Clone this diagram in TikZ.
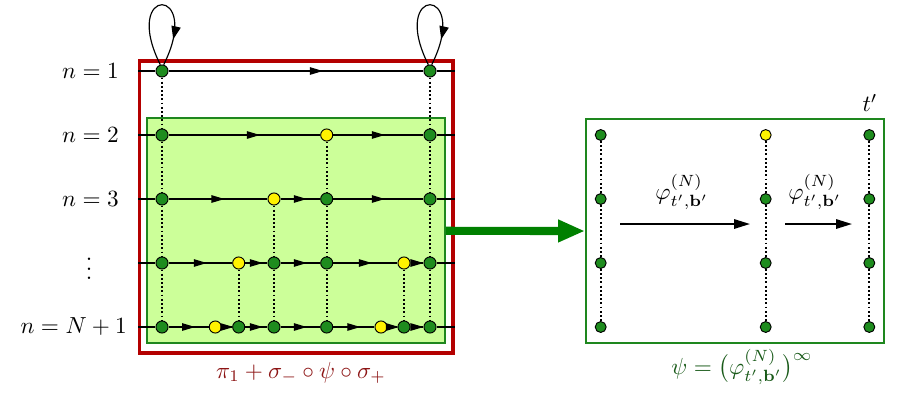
\documentclass[tikz,border=0pt]{standalone}
\usepackage{amsmath,amssymb,bm}
\usepackage{tikz}
\usetikzlibrary{arrows.meta,positioning,fit,decorations.markings}
\definecolor{dotgreen}{RGB}{30,140,30}
\definecolor{boxred}{RGB}{180,0,0}
\definecolor{lblred}{RGB}{140,20,20}
\definecolor{boxgreen}{RGB}{30,135,30}
\definecolor{lightfill}{RGB}{204,255,153}
\definecolor{bigarrow}{RGB}{0,128,0}
\definecolor{lblgreen}{RGB}{25,90,25}

\begin{document}
\begin{tikzpicture}[x=0.43pt, y=-0.43pt,
      gdot/.style={circle, fill=dotgreen, draw=black, line width=0.4pt,
                   inner sep=0pt, minimum size=5.2pt},
      ydot/.style={gdot, fill=yellow},
      sdot/.style={gdot, minimum size=4.7pt},
      sydot/.style={sdot, fill=yellow},
      midarr/.style={postaction={decorate}, decoration={markings,
                   mark=at position #1 with {\arrow[xshift=2.8pt]{Triangle[length=5.6pt,width=3.2pt]}}}},
      midarr/.default=0.5,
      row/.style={line width=0.5pt},
      link/.style={densely dotted, line width=0.8pt},
      looparr/.style={line width=0.5pt, postaction={decorate}, decoration={markings,
                   mark=at position 0.8 with {\arrow{Triangle[length=5.6pt,width=4pt]}}}},
      redfr/.style={draw=boxred, line width=1.3pt, inner sep=0pt},
      greenfr/.style={draw=boxgreen, fill=lightfill, line width=0.8pt, inner sep=0pt},
      rightfr/.style={draw=boxgreen, line width=0.9pt, inner sep=0pt},
      bigarr/.style={-{Triangle[length=11.5pt,width=9pt]}, line width=3.5pt, bigarrow},
      flow/.style={-{Triangle[length=6.8pt,width=4pt]}, line width=0.8pt},
    ]
    \useasboundingbox (0,0) rectangle (897,410);

    \node[redfr, fit={(139.3,61) (453,353)}] (red) {};
    \node[greenfr, fit={(147.3,118.3) (445,343.3)}] (green) {};
    \node[rightfr, fit={(586,119) (884,343)}] (right) {};

    \node[anchor=east] (n1) at (127,71)  {$n=1$};
    \node[anchor=east] (n2) at (127,135) {$n=2$};
    \node[anchor=east] (n3) at (127,199) {$n=3$};
    \node (ndots) at (89,262) {$\vdots$};
    \node[anchor=east] (nN) at (135,327) {$n=N+1$};

    \node[gdot] (a1) at (162,71) {};
    \node[gdot] (h1) at (430,71) {};

    \node[gdot] (a2) at (162,135) {};
    \node[ydot] (e2) at (326.7,135) {};
    \node[gdot] (h2) at (430,135) {};

    \node[gdot] (a3) at (162,199) {};
    \node[ydot] (d3) at (274,199) {};
    \node[gdot] (e3) at (326.7,199) {};
    \node[gdot] (h3) at (430,199) {};

    \node[gdot] (a4) at (162,263) {};
    \node[ydot] (c4) at (238.7,263) {};
    \node[gdot] (d4) at (274,263) {};
    \node[gdot] (e4) at (326.7,263) {};
    \node[ydot] (g4) at (404,263) {};
    \node[gdot] (h4) at (430,263) {};

    \node[gdot] (a5) at (162,327) {};
    \node[ydot] (b5) at (215.3,327) {};
    \node[gdot] (c5) at (238.7,327) {};
    \node[gdot] (d5) at (274,327) {};
    \node[gdot] (e5) at (326.7,327) {};
    \node[ydot] (f5) at (381,327) {};
    \node[gdot] (g5) at (404,327) {};
    \node[gdot] (h5) at (430,327) {};

    \coordinate (w1) at (138,71);  \coordinate (x1) at (455,71);
    \coordinate (w2) at (138,135); \coordinate (x2) at (455,135);
    \coordinate (w3) at (138,199); \coordinate (x3) at (455,199);
    \coordinate (w4) at (138,263); \coordinate (x4) at (455,263);
    \coordinate (w5) at (138,327); \coordinate (x5) at (455,327);

    \draw[row] (w1) -- (a1);
    \draw[row, midarr=0.58] (a1) -- (h1);
    \draw[row] (h1) -- (x1);

    \draw[row] (w2) -- (a2);
    \draw[row, midarr=0.56] (a2) -- (e2);
    \draw[row, midarr] (e2) -- (h2);
    \draw[row] (h2) -- (x2);

    \draw[row] (w3) -- (a3);
    \draw[row, midarr] (a3) -- (d3);
    \draw[row, midarr] (d3) -- (e3);
    \draw[row, midarr] (e3) -- (h3);
    \draw[row] (h3) -- (x3);

    \draw[row] (w4) -- (a4);
    \draw[row, midarr] (a4) -- (c4);
    \draw[row, midarr] (c4) -- (d4);
    \draw[row, midarr] (d4) -- (e4);
    \draw[row, midarr] (e4) -- (g4);
    \draw[row, midarr] (g4) -- (h4);
    \draw[row] (h4) -- (x4);

    \draw[row] (w5) -- (a5);
    \draw[row, midarr] (a5) -- (b5);
    \draw[row, midarr] (b5) -- (c5);
    \draw[row, midarr] (c5) -- (d5);
    \draw[row, midarr] (d5) -- (e5);
    \draw[row, midarr] (e5) -- (f5);
    \draw[row, midarr] (f5) -- (g5);
    \draw[row, midarr] (g5) -- (h5);
    \draw[row] (h5) -- (x5);

    \draw[link] (a1) -- (a2) -- (a3) -- (a4) -- (a5);
    \draw[link] (h1) -- (h2) -- (h3) -- (h4) -- (h5);
    \draw[link] (e2) -- (e3) -- (e4) -- (e5);
    \draw[link] (d3) -- (d4) -- (d5);
    \draw[link] (c4) -- (c5);
    \draw[link] (g4) -- (g5);

    \draw[looparr] (a1.105) .. controls +(-40,-80) and +(40,-80) .. (a1.75);
    \draw[looparr] (h1.105) .. controls +(-40,-80) and +(40,-80) .. (h1.75);

    \node[text=lblred] (lblL) at (301,373) {$\pi_1+\sigma_-\circ\psi\circ\sigma_+$};

    \draw[bigarr] (green.east) -- (right.west);

    \node[sdot]  (p1) at (600.7,135) {};
    \node[sdot]  (p2) at (600.7,199) {};
    \node[sdot]  (p3) at (600.7,263) {};
    \node[sdot]  (p4) at (600.7,327) {};
    \node[sydot] (q1) at (765.7,135) {};
    \node[sdot]  (q2) at (765.7,199) {};
    \node[sdot]  (q3) at (765.7,263) {};
    \node[sdot]  (q4) at (765.7,327) {};
    \node[sdot]  (s1) at (869.3,135) {};
    \node[sdot]  (s2) at (869.3,199) {};
    \node[sdot]  (s3) at (869.3,263) {};
    \node[sdot]  (s4) at (869.3,327) {};

    \draw[link] (p1) -- (p2) -- (p3) -- (p4);
    \draw[link] (q1) -- (q2) -- (q3) -- (q4);
    \draw[link] (s1) -- (s2) -- (s3) -- (s4);

    \coordinate (u1) at (620,224); \coordinate (u2) at (750,224);
    \coordinate (v1) at (785,224); \coordinate (v2) at (852,224);
    \draw[flow] (u1) -- (u2);
    \draw[flow] (v1) -- (v2);

    \node (phi1) at (682,192) {$\varphi^{(N)}_{t',\mathbf{b}'}$};
    \node (phi2) at (815,192) {$\varphi^{(N)}_{t',\mathbf{b}'}$};
    \node (tp) at (870,103) {$t'$};

    \node[text=lblgreen] (lblR) at (742,367) {$\psi=\bigl(\varphi^{(N)}_{t',\mathbf{b}'}\bigr)^{\infty}$};
  \end{tikzpicture}
\end{document}
